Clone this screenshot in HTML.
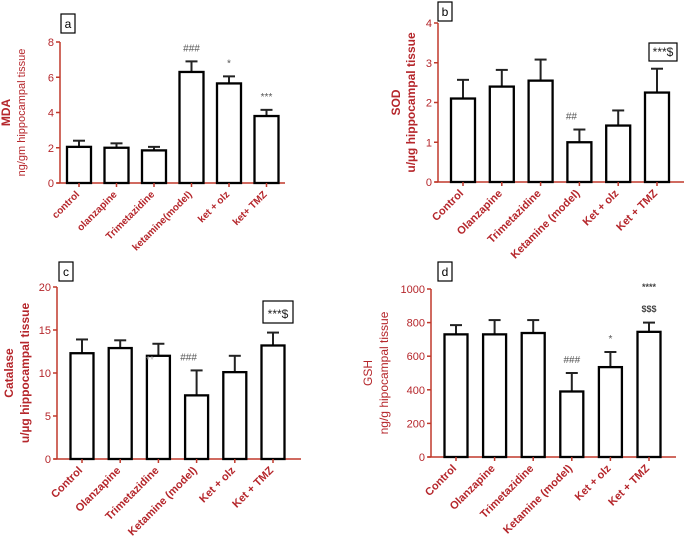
<!DOCTYPE html>
<html><head><meta charset="utf-8">
<style>
html,body{margin:0;padding:0;background:#fff;width:685px;height:544px;overflow:hidden}
svg{display:block}
text{font-family:"Liberation Sans",Arial,sans-serif}
</style></head>
<body>
<svg id="fig" width="685" height="544" viewBox="0 0 685 544" xmlns="http://www.w3.org/2000/svg"></svg>
<script>
// Panel a (MDA)
const catsA = ["control","olanzapine","Trimetazidine","ketamine(model)","ket + olz","ket+ TMZ"];
const valsA = [2.05,2.0,1.85,6.3,5.65,3.8];
const errA  = [0.35,0.25,0.2,0.6,0.4,0.35];
const ticksA = [0,2,4,6,8];
const annA = ["","","","###","*","***"];
// Panel b (SOD)
const catsB = ["Control","Olanzapine","Trimetazidine","Ketamine (model)","Ket + olz","Ket + TMZ"];
const valsB = [2.1,2.4,2.55,1.0,1.42,2.25];
const errB  = [0.47,0.42,0.53,0.32,0.38,0.6];
const ticksB = [0,1,2,3,4];
const annB = ["","","","##","",""];
// Panel c (Catalase)
const catsC = ["Control","Olanzapine","Trimetazidine","Ketamine (model)","Ket + olz","Ket + TMZ"];
const valsC = [12.3,12.9,12.0,7.4,10.1,13.2];
const errC  = [1.6,0.9,1.4,2.9,1.9,1.5];
const ticksC = [0,5,10,15,20];
const annC = ["","","","###","",""];
// Panel d (GSH)
const catsD = ["Control","Olanzapine","Trimetazidine","Ketamine (model)","Ket + olz","Ket + TMZ"];
const valsD = [730,730,738,390,535,745];
const errD  = [55,85,77,110,90,55];
const ticksD = [0,200,400,600,800,1000];
const annD = ["","","","###","*",""];

const NS="http://www.w3.org/2000/svg";
const svg=document.getElementById('fig');
const RED="#b5262b", AX="#c0392b";
function mk(tag,attrs,parent){const e=document.createElementNS(NS,tag);for(const k in attrs)e.setAttribute(k,attrs[k]);(parent||svg).appendChild(e);return e;}

function panel(cfg){
  const g=mk('g',{});
  
  
  const ymax=cfg.ticks[cfg.ticks.length-1];
  const y=v=>cfg.y0-(v/ymax)*(cfg.y0-cfg.yTop);
  const x=i=>cfg.xFirst+i*cfg.step;
  const ya=mk('line',{x1:cfg.ax,y1:cfg.yTop,x2:cfg.ax,y2:cfg.y0,stroke:AX,'stroke-width':1.5},g);
  
  
  const xa=mk('line',{x1:cfg.ax-3,y1:cfg.y0,x2:cfg.xEnd,y2:cfg.y0,stroke:AX,'stroke-width':1.5},g);
  
  
  cfg.ticks.forEach(t=>{
    mk('line',{x1:cfg.ax-4,y1:y(t),x2:cfg.ax,y2:y(t),stroke:AX,'stroke-width':1.5},g);
    const tl=mk('text',{x:cfg.ax-6,y:y(t)+4,'text-anchor':'end','font-size':11,fill:RED},g);
    tl.textContent=t;
    
    
  });
  cfg.cats.forEach((c,i)=>{
    const cx=x(i), w=cfg.bw;
    const top=y(cfg.vals[i]), et=y(cfg.vals[i]+cfg.err[i]);
    mk('line',{x1:cx,y1:top,x2:cx,y2:et,stroke:'#222','stroke-width':2},g);
    mk('line',{x1:cx-6,y1:et,x2:cx+6,y2:et,stroke:'#222','stroke-width':2},g);
    const b=mk('rect',{x:cx-w/2,y:top,width:w,height:cfg.y0-top,fill:'#fff',stroke:'#000','stroke-width':2.3},g);
    
    
    mk('line',{x1:cx,y1:cfg.y0,x2:cx,y2:cfg.y0+4,stroke:AX,'stroke-width':1.5},g);
    const lx=cx+1, ly=cfg.y0+12;
    const t=mk('text',{x:lx,y:ly,'text-anchor':'end','font-size':cfg.lfs,'font-weight':'bold',fill:RED,transform:`rotate(-45 ${lx} ${ly})`},g);
    t.textContent=c;
    
    
    if(cfg.ann[i]){
      const a=mk('text',{x:cx+(cfg.annDx||0),y:et-10,'text-anchor':'middle','font-size':10,fill:'#555'},g);
      a.textContent=cfg.ann[i];
      
      
    }
  });
  const mid=(cfg.yTop+cfg.y0)/2;
  const t1=mk('text',{x:cfg.t1x,y:mid,'text-anchor':'middle','font-size':12,fill:RED,'font-weight':cfg.t1b?'bold':'normal',transform:`rotate(-90 ${cfg.t1x} ${mid})`},g);
  t1.textContent=cfg.title1;
  
  
  const t2=mk('text',{x:cfg.t2x,y:mid,'text-anchor':'middle','font-size':cfg.t2fs,fill:RED,'font-weight':cfg.t2b?'bold':'normal',transform:`rotate(-90 ${cfg.t2x} ${mid})`},g);
  t2.textContent=cfg.title2;
  
  
  mk('rect',{x:cfg.lb[0],y:cfg.lb[1],width:14,height:19,fill:'#fff',stroke:'#000','stroke-width':1.2},g);
  const pl=mk('text',{x:cfg.lb[0]+7,y:cfg.lb[1]+14,'text-anchor':'middle','font-size':12,fill:'#000'},g);
  pl.textContent=cfg.letter;
  
  
  return {g,x,y};
}

const pa=panel({name:'panel-a-mda',cats:catsA,vals:valsA,err:errA,ticks:ticksA,ann:annA,ax:60,yTop:42,y0:183,xEnd:285,xFirst:79,step:37.5,bw:24,lfs:10,title1:'MDA',title2:'ng/gm hippocampal tissue',t1x:10,t2x:25,t1b:true,t2fs:11,t2b:false,lb:[61,14],letter:'a'});
const pb=panel({name:'panel-b-sod',cats:catsB,vals:valsB,err:errB,ticks:ticksB,ann:annB,ax:438,yTop:23,y0:182,xEnd:684,xFirst:463,step:38.8,bw:24,lfs:11,title1:'SOD',title2:'u/µg hippocampal tissue',t1x:400,t2x:415,t1b:true,t2fs:12,t2b:true,lb:[438,2],letter:'b',annDx:-8});
const pc=panel({name:'panel-c-catalase',cats:catsC,vals:valsC,err:errC,ticks:ticksC,ann:annC,ax:57,yTop:287,y0:459,xEnd:301,xFirst:82,step:38.2,bw:23,lfs:11,title1:'Catalase',title2:'u/µg hippocampal tissue',t1x:13,t2x:29,t1b:true,t2fs:12,t2b:true,lb:[59,262],letter:'c',annDx:-8});
const pd=panel({name:'panel-d-gsh',cats:catsD,vals:valsD,err:errD,ticks:ticksD,ann:annD,ax:431,yTop:289,y0:457,xEnd:676,xFirst:456,step:38.6,bw:23,lfs:11,title1:'GSH',title2:'ng/g hipocampal tissue',t1x:372,t2x:388,t1b:false,t2fs:12,t2b:false,lb:[438,262],letter:'d'});

function boxAnn(g,x0,y0,w,h,txt){
  mk('rect',{x:x0,y:y0,width:w,height:h,fill:'#fff',stroke:'#000','stroke-width':1.2},g);
  const t=mk('text',{x:x0+w/2,y:y0+h-5,'text-anchor':'middle','font-size':12,fill:'#222'},g);
  t.textContent=txt;
  
  
}
boxAnn(pb.g,649,43,28,18,'***$');
boxAnn(pc.g,263,301,30,22,'***$');
const faded=mk('text',{x:150,y:363,'text-anchor':'middle','font-size':10,fill:'#aaa'},pc.g);
faded.textContent='**';


const s1=mk('text',{x:649,y:290,'text-anchor':'middle','font-size':9,'font-weight':'bold',fill:'#444'},pd.g);
s1.textContent='****';


const s2=mk('text',{x:649,y:312,'text-anchor':'middle','font-size':9,'font-weight':'bold',fill:'#444'},pd.g);
s2.textContent='$$$';


</script>
</body></html>
